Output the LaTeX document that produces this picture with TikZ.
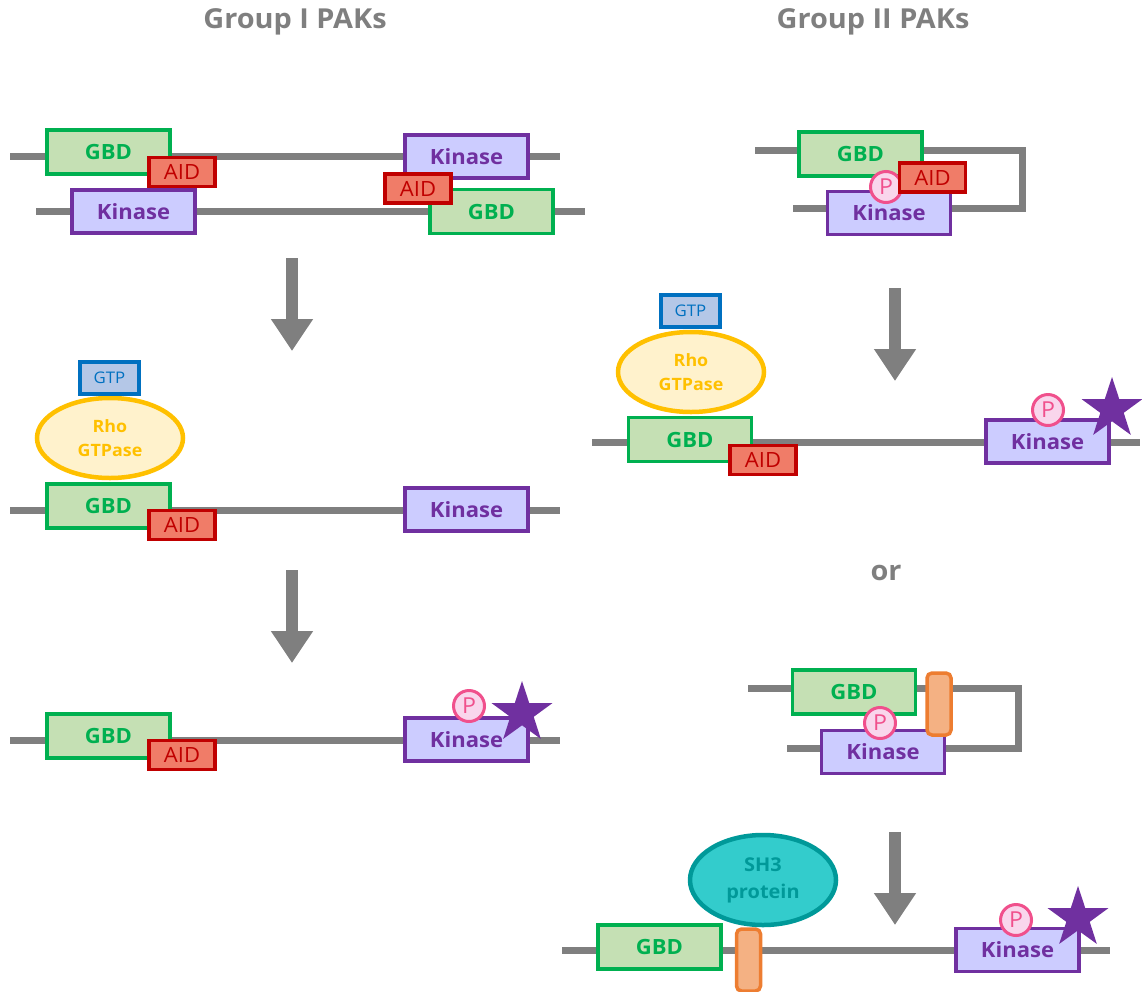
\documentclass[tikz,border=0pt]{standalone}
\usepackage{fontspec}
\setmainfont{Open Sans}[FakeStretch=1.05]
\usetikzlibrary{shapes.geometric,arrows.meta}
\definecolor{linegray}{HTML}{7F7F7F}
\definecolor{gbdc}{HTML}{00B050}
\definecolor{gbdf}{HTML}{C5E0B4}
\definecolor{aidc}{HTML}{C00000}
\definecolor{aidf}{HTML}{F07C68}
\definecolor{kinc}{HTML}{7030A0}
\definecolor{kinf}{HTML}{CCCCFF}
\definecolor{gtpc}{HTML}{0070C0}
\definecolor{gtpf}{HTML}{B4C7E7}
\definecolor{rhoc}{HTML}{FFC000}
\definecolor{rhof}{HTML}{FFF2CC}
\definecolor{shc}{HTML}{009999}
\definecolor{shf}{HTML}{33CCCC}
\definecolor{orc}{HTML}{ED7D31}
\definecolor{orf}{HTML}{F4B183}
\definecolor{pinkc}{HTML}{F0508C}
\definecolor{pinkf}{HTML}{F9D6EC}
\tikzset{
  box/.style={draw, line width=3.5, inner sep=0, anchor=center},
  gbdbox/.style={box, draw=gbdc, fill=gbdf, text=gbdc, font=\bfseries\fontsize{21}{24}\selectfont, minimum width=123, minimum height=44},
  kinbox/.style={box, draw=kinc, fill=kinf, text=kinc, font=\bfseries\fontsize{21}{24}\selectfont, minimum width=123, minimum height=43},
  aidbox/.style={box, draw=aidc, fill=aidf, text=aidc, font=\fontsize{21}{24}\selectfont, minimum width=66, minimum height=29},
  gtpbox/.style={box, draw=gtpc, fill=gtpf, text=gtpc, font=\fontsize{16}{18}\selectfont, minimum width=59, minimum height=32},
  rhoell/.style={ellipse, draw=rhoc, fill=rhof, line width=4.5, text=rhoc, inner sep=0, minimum width=146, minimum height=80, align=center, font=\bfseries\fontsize{17}{24}\selectfont},
  shell/.style={ellipse, draw=shc, fill=shf, line width=4.5, text=shc, inner sep=0, minimum width=146, minimum height=90, align=center, font=\bfseries\fontsize{19}{27}\selectfont},
  pill/.style={draw=orc, fill=orf, line width=3.5, rounded corners=5, inner sep=0, minimum width=24, minimum height=62},
  chain/.style={draw=linegray, line width=7},
  pcirc/.style={circle, draw=pinkc, fill=pinkf, line width=3, minimum size=31, inner sep=0, text=pinkc, font=\fontsize{22}{22}\selectfont},
  starn/.style={star, star points=5, star point ratio=2.6, fill=kinc, minimum size=64, inner sep=0},
  bigarrow/.style={draw=linegray, line width=12, -{Triangle[width=40pt,length=32pt]}},
  title/.style={text=linegray, font=\bfseries\fontsize{27.5}{30}\selectfont}
}
\begin{document}
\begin{tikzpicture}[x=1pt,y=-1pt]
\useasboundingbox (0,0) rectangle (1142,991);
% titles
\node[title] (t1) at (295,22) {Group I PAKs};
\node[title] (t2) at (873,22) {Group II PAKs};
% ---------- Group I, top ----------
\coordinate (l1a) at (10,156); \coordinate (l1b) at (560,156);
\coordinate (l2a) at (36,211); \coordinate (l2b) at (585,211);
\draw[chain] (l1a) -- (l1b);
\draw[chain] (l2a) -- (l2b);
\node[gbdbox] (g1) at (108.5,152) {GBD};
\node[kinbox] (k1) at (133.5,211.5) {Kinase};
\node[aidbox] (a1) at (182,172) {AID};
\node[kinbox] (k2) at (466.5,156.5) {Kinase};
\node[gbdbox] (g2) at (491.5,211.5) {GBD};
\node[aidbox] (a2) at (418,188.5) {AID};
% arrow 1
\coordinate (ar1s) at (292,258); \coordinate (ar1e) at (292,351);
\draw[bigarrow] (ar1s) -- (ar1e);
% ---------- Group I, middle ----------
\coordinate (l3a) at (10,510); \coordinate (l3b) at (560,510);
\draw[chain] (l3a) -- (l3b);
\node[rhoell] (r1) at (110,438) {Rho\\GTPase};
\node[gtpbox] (gtp1) at (109.5,378) {GTP};
\node[gbdbox] (g3) at (108.5,506) {GBD};
\node[aidbox] (a3) at (182,525) {AID};
\node[kinbox] (k3) at (466.5,509.5) {Kinase};
% arrow 2
\coordinate (ar2s) at (292,570); \coordinate (ar2e) at (292,663);
\draw[bigarrow] (ar2s) -- (ar2e);
% ---------- Group I, bottom ----------
\coordinate (l4a) at (10,740); \coordinate (l4b) at (560,740);
\draw[chain] (l4a) -- (l4b);
\node[gbdbox] (g4) at (108.5,736) {GBD};
\node[aidbox] (a4) at (182,755) {AID};
\node[kinbox] (k4) at (466.5,739.5) {Kinase};
\node[pcirc] (p4) at (469,706) {P};
\node[starn] (s4) at (522,713) {};
% ---------- Group II, top ----------
\coordinate (l5a) at (755,150); \coordinate (l5c1) at (1022,150);
\coordinate (l5c2) at (1022,208); \coordinate (l5b) at (793,208);
\draw[chain, line join=miter] (l5a) -- (l5c1) -- (l5c2) -- (l5b);
\node[gbdbox] (g5) at (860.5,154) {GBD};
\node[kinbox] (k5) at (889,213) {Kinase};
\node[pcirc] (p5) at (886,187) {P};
\node[aidbox] (a5) at (932.5,177.5) {AID};
% arrow 3
\coordinate (ar3s) at (895,288); \coordinate (ar3e) at (895,381);
\draw[bigarrow] (ar3s) -- (ar3e);
% ---------- Group II, middle ----------
\coordinate (l6a) at (592,442); \coordinate (l6b) at (1140,442);
\draw[chain] (l6a) -- (l6b);
\node[rhoell] (r2) at (691,372) {Rho\\GTPase};
\node[gtpbox] (gtp2) at (690.5,311) {GTP};
\node[gbdbox] (g6) at (690,439.5) {GBD};
\node[aidbox] (a6) at (763,460) {AID};
\node[kinbox] (k6) at (1047.5,441.5) {Kinase};
\node[pcirc] (p6) at (1048,410) {P};
\node[starn] (s6) at (1112,409) {};
% or
\node[title] (or) at (886,573) {or};
% ---------- Group II, closed (SH3 path) ----------
\coordinate (l7a) at (748,688); \coordinate (l7c1) at (1018,688);
\coordinate (l7c2) at (1018,748); \coordinate (l7b) at (787,748);
\draw[chain, line join=miter] (l7a) -- (l7c1) -- (l7c2) -- (l7b);
\node[gbdbox] (g7) at (854,692) {GBD};
\node[kinbox] (k7) at (883,752) {Kinase};
\node[pill] (o7) at (939,704) {};
\node[pcirc] (p7) at (880,723) {P};
% arrow 4
\coordinate (ar4s) at (895,832); \coordinate (ar4e) at (895,925);
\draw[bigarrow] (ar4s) -- (ar4e);
% ---------- Group II, bottom ----------
\coordinate (l8a) at (562,950); \coordinate (l8b) at (1110,950);
\draw[chain] (l8a) -- (l8b);
\node[gbdbox] (g8) at (659.5,947) {GBD};
\node[pill] (o8) at (748.5,960) {};
\node[shell] (sh) at (763,880) {SH3\\protein};
\node[kinbox] (k8) at (1017.5,950) {Kinase};
\node[pcirc] (p8) at (1016,920) {P};
\node[starn] (s8) at (1078,918) {};
\end{tikzpicture}
\end{document}
